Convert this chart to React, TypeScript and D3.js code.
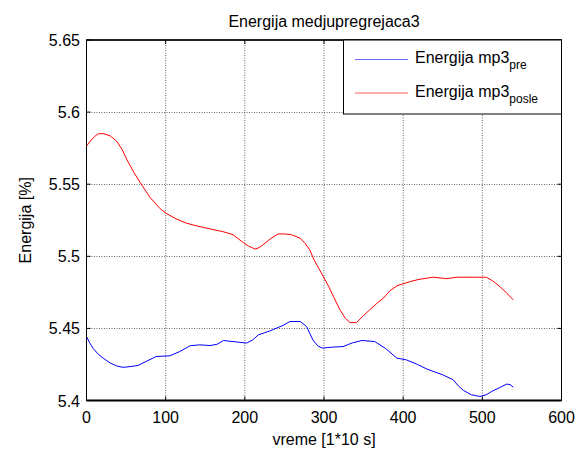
import React from "react";
import * as d3 from "d3";

const preX = [0,4,8.6,15,22,30,38,46,55,65,75,88,105,118,131,143,156,165,173,185,202,210,217,225,232,240,248,257,270,278,286,292,298,310,324,336,348,364,378,392,404,418,430,450,463,470,476,486,497,505,512,522,531,535,539];
const preY = [5.4444,5.440,5.436,5.432,5.429,5.426,5.424,5.423,5.4235,5.4243,5.427,5.4305,5.431,5.434,5.438,5.4386,5.4381,5.439,5.4416,5.4409,5.4398,5.442,5.4455,5.447,5.4483,5.4502,5.452,5.4548,5.4548,5.4513,5.442,5.438,5.4363,5.437,5.4374,5.440,5.4416,5.4409,5.436,5.4294,5.4282,5.425,5.4218,5.4178,5.4144,5.410,5.407,5.404,5.4028,5.404,5.4063,5.409,5.4114,5.411,5.4093];

const posleX = [0,5,10,15,22,30,38,45,51,60,68,80,93,100,113,126,140,156,173,185,198,205,213,218,223,232,242,250,259,270,276,282,287,293,299,306,312,320,327,333,341,350,358,366,375,383,392,400,409,420,438,455,468,490,505,513,522,530,539];
const posleY = [5.5765,5.580,5.583,5.585,5.585,5.5835,5.580,5.574,5.567,5.558,5.551,5.541,5.533,5.530,5.526,5.523,5.521,5.519,5.517,5.515,5.5095,5.507,5.505,5.506,5.508,5.512,5.5155,5.5155,5.515,5.5125,5.509,5.5045,5.498,5.492,5.486,5.479,5.472,5.463,5.457,5.454,5.454,5.459,5.463,5.467,5.471,5.476,5.4795,5.481,5.4825,5.484,5.4855,5.4845,5.4855,5.4855,5.4855,5.483,5.479,5.475,5.4698];

const xTicks = [0,100,200,300,400,500,600];
const yTicks = [5.4,5.45,5.5,5.55,5.6,5.65];
const yTickLabels = ["5.4","5.45","5.5","5.55","5.6","5.65"];
const seriesNames = ["Energija mp3", "Energija mp3"];
const seriesSubs = ["pre", "posle"];
const seriesColors = ["#0000ff", "#ff0000"];
const legendColors = ["#6e6eff", "#ff5c5c"];

const W = 587, H = 452;
const L = 86.5, R = 561.5, T = 40, B = 400.5;
const FONT = "'Liberation Sans', Arial, Helvetica, sans-serif";

export default function App() {
  const x = d3.scaleLinear().domain([0, 600]).range([L, R]);
  const y = d3.scaleLinear().domain([5.4, 5.65]).range([B, T]);
  const line = d3.line<[number, number]>().x(d => x(d[0])).y(d => y(d[1]));
  const pre = preX.map((v, i) => [v, preY[i]] as [number, number]);
  const posle = posleX.map((v, i) => [v, posleY[i]] as [number, number]);
  const fs = 16;
  return (
    <svg width={W} height={H} style={{ position: "absolute", left: 0, top: 0, background: "#fff" }} fontFamily={FONT}>
      <rect x={0} y={0} width={W} height={H} fill="#fff" />
      <rect x={L} y={T} width={R - L} height={B - T} fill="#fff" />
      {xTicks.slice(1, -1).map(t => (
        <line key={"gx" + t} x1={x(t)} x2={x(t)} y1={T} y2={B} stroke="#666" strokeWidth={1} strokeDasharray="1,1.5" />
      ))}
      {yTicks.slice(1, -1).map(t => (
        <line key={"gy" + t} x1={L} x2={R} y1={Math.round(y(t)) + 0.5} y2={Math.round(y(t)) + 0.5} stroke="#666" strokeWidth={1} strokeDasharray="1,1.5" />
      ))}
      <path d={line(pre) || ""} fill="none" stroke={seriesColors[0]} strokeWidth={1} />
      <path d={line(posle) || ""} fill="none" stroke={seriesColors[1]} strokeWidth={1} />
      {xTicks.map(t => (
        <g key={"tx" + t}>
          <line x1={x(t)} x2={x(t)} y1={B} y2={B - 4} stroke="#000" />
          <line x1={x(t)} x2={x(t)} y1={T} y2={T + 4} stroke="#000" />
          <text x={x(t)} y={423} textAnchor="middle" fontSize={fs} fill="#000">{t}</text>
        </g>
      ))}
      {yTicks.map((t, i) => (
        <g key={"ty" + t}>
          <line x1={L} x2={L + 4} y1={y(t)} y2={y(t)} stroke="#000" />
          <line x1={R} x2={R - 4} y1={y(t)} y2={y(t)} stroke="#000" />
          <text x={80} y={y(t) + 6} textAnchor="end" fontSize={fs} fill="#000">{yTickLabels[i]}</text>
        </g>
      ))}
      <rect x={L} y={T} width={R - L} height={B - T} fill="none" stroke="#000" strokeWidth={1} />
      <line x1={L} x2={R} y1={B} y2={B} stroke="#000" strokeWidth={2} />
      <line x1={L} x2={R} y1={T} y2={T} stroke="#000" strokeWidth={1.5} />
      <rect x={343.5} y={T} width={R - 343.5} height={74} fill="#fff" stroke="#000" strokeWidth={1} />
      {seriesNames.map((n, i) => (
        <g key={"lg" + i}>
          <line x1={355} x2={408} y1={59.5 + i * 33.5} y2={59.5 + i * 33.5} stroke={legendColors[i]} strokeWidth={1.2} />
          <text x={415} y={63 + i * 33.5} fontSize={fs} fill="#000">
            {n}
            <tspan fontSize={12} dy={6}>{seriesSubs[i]}</tspan>
          </text>
        </g>
      ))}
      <text x={(L + R) / 2} y={27} textAnchor="middle" fontSize={fs} fill="#000">Energija medjupregrejaca3</text>
      <text x={(L + R) / 2} y={445} textAnchor="middle" fontSize={fs} fill="#000">vreme [1*10 s]</text>
      <text transform={`translate(31, ${(T + B) / 2}) rotate(-90)`} textAnchor="middle" fontSize={fs} fill="#000">Energija [%]</text>
    </svg>
  );
}
